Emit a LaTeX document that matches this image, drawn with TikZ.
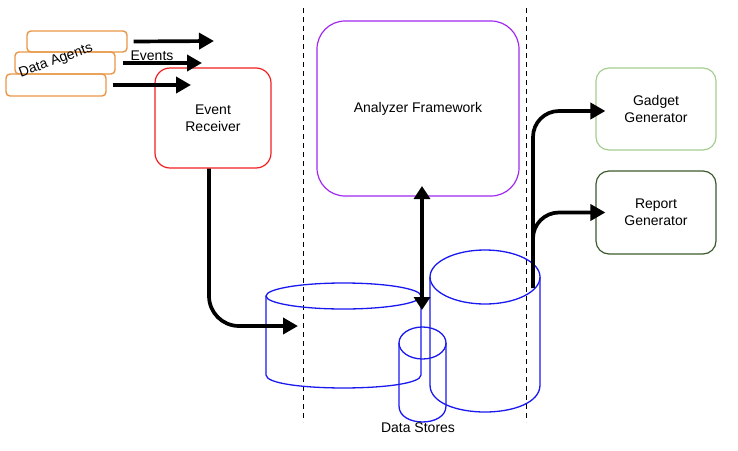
\documentclass[tikz,border=0pt]{standalone}
\usepackage{fontspec}
\setmainfont{Liberation Sans}
\usetikzlibrary{arrows.meta}
\definecolor{agentc}{RGB}{232,150,70}
\definecolor{recvc}{RGB}{240,30,30}
\definecolor{anac}{RGB}{160,40,240}
\definecolor{gadc}{RGB}{165,205,145}
\definecolor{repc}{RGB}{60,90,45}
\definecolor{storec}{RGB}{25,25,240}
\tikzset{
  box/.style={draw, line width=1.2pt, align=center, inner sep=0pt, font=\fontsize{14}{17}\selectfont},
  agent/.style={draw=agentc, line width=1.4pt, rounded corners=4pt, minimum width=100pt, inner sep=0pt},
  arr/.style={line width=3.7pt, -{Triangle[length=15pt,width=16pt]}},
  darr/.style={line width=3.7pt, {Triangle[length=13pt,width=16pt]}-{Triangle[length=13pt,width=16pt]}},
  cyl/.style={draw=storec, line width=1.3pt},
  sep/.style={line width=1pt, dash pattern=on 5pt off 4pt},
  lbl/.style={font=\fontsize{14}{16}\selectfont, inner sep=0pt}
}
\begin{document}
\begin{tikzpicture}[x=1pt,y=-1pt]
\useasboundingbox (0,0) rectangle (738,450);
% separators
\draw[sep] (303,8) -- (303,422);
\draw[sep] (526,8) -- (526,422);
% data agents
\node[agent, minimum height=21pt] (a1) at (77,41.5) {};
\node[agent, minimum height=22pt] (a2) at (65,63) {};
\node[agent, minimum height=22pt] (a3) at (56,85) {};
\node[lbl, rotate=20] (agl) at (56,61) {Data Agents};
\node[lbl] (evl) at (152,56) {Events};
% boxes
\node[box, draw=recvc, rounded corners=15pt, minimum width=116pt, minimum height=100pt] (er) at (213,118) {Event\\Receiver};
\node[box, draw=anac, rounded corners=28pt, minimum width=202pt, minimum height=175pt] (af) at (418,108.5) {Analyzer Framework};
\node[box, draw=gadc, rounded corners=13pt, minimum width=120pt, minimum height=82pt] (gg) at (656,109) {Gadget\\Generator};
\node[box, draw=repc, rounded corners=13pt, minimum width=120pt, minimum height=83pt] (rg) at (656,212.5) {Report\\Generator};
% event arrows
\coordinate (e1) at (214,41);
\coordinate (e2) at (202,63);
\coordinate (e3) at (191,85);
\draw[arr] ([xshift=6pt]a1.east) -- (e1);
\draw[arr] ([xshift=7pt]a2.east) -- (e2);
\draw[arr] ([xshift=6pt]a3.east) -- (e3);
% data stores
\coordinate (s1) at (343.5,296);
\draw[cyl] (s1) ellipse [x radius=77.5, y radius=13];
\draw[cyl] (266,296) -- (266,375) .. controls (266,392.3) and (421,392.3) .. (421,375) -- (421,296);
\coordinate (s2) at (422.5,343);
\draw[cyl] (s2) ellipse [x radius=23.5, y radius=16];
\draw[cyl] (399,343) -- (399,406) .. controls (399,427.3) and (446,427.3) .. (446,406) -- (446,343);
\coordinate (s3) at (485,277);
\draw[cyl] (s3) ellipse [x radius=55, y radius=27];
\draw[cyl] (430,277) -- (430,385) .. controls (430,421) and (540,421) .. (540,385) -- (540,277);
\node[lbl] (dsl) at (418,428) {Data Stores};
% connectors
\coordinate (in1) at (298,326);
\draw[arr, rounded corners=30pt] ([xshift=-4pt]er.south) |- (in1);
\coordinate (dt) at (422,186);
\coordinate (db) at (422,310);
\draw[darr] (dt) -- (db);
\coordinate (o1) at (533,288);
\coordinate (o2) at (533,262);
\draw[arr, rounded corners=26pt] (o1) |- ([xshift=10pt,yshift=-2pt]gg.west);
\draw[arr, rounded corners=26pt] (o2) |- ([xshift=10pt]rg.west);
\end{tikzpicture}
\end{document}
